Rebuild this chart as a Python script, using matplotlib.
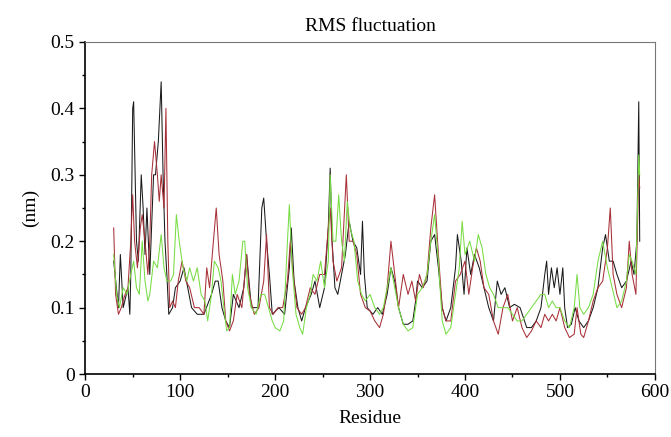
import numpy as np
import matplotlib.pyplot as plt

# values (residue, RMSF in nm)
black_res = [30, 35, 37, 40, 45, 47, 48, 50, 51, 54, 56, 59, 61, 63, 65, 68, 72, 74, 77, 80,
             82, 84, 86, 88, 92, 95, 100, 104, 108, 112, 118, 125, 133, 137, 140, 144, 148, 152,
             156, 162, 167, 170, 175, 182, 186, 188, 191, 194, 197, 204, 210, 215, 217, 220, 224,
             228, 232, 238, 242, 247, 252, 256, 258, 260, 263, 266, 270, 274, 278, 282, 286, 290,
             292, 294, 297, 303, 308, 313, 318, 322, 326, 330, 335, 340, 345, 348, 350, 355, 360,
             364, 368, 372, 376, 380, 385, 390, 392, 396, 399, 402, 406, 410, 415, 420, 425, 430,
             434, 438, 442, 447, 452, 458, 465, 470, 475, 480, 484, 486, 488, 491, 494, 497, 500,
             503, 505, 508, 512, 516, 520, 525, 530, 535, 540, 545, 548, 552, 556, 560, 565, 570,
             575, 578, 581, 583, 584]
black_val = [0.17, 0.10, 0.18, 0.10, 0.13, 0.09, 0.15, 0.40, 0.41, 0.20, 0.17, 0.30, 0.25, 0.18,
             0.25, 0.15, 0.30, 0.30, 0.35, 0.44, 0.30, 0.20, 0.15, 0.09, 0.10, 0.13, 0.14, 0.16,
             0.13, 0.10, 0.09, 0.09, 0.12, 0.14, 0.14, 0.10, 0.08, 0.07, 0.12, 0.10, 0.13, 0.18,
             0.10, 0.10, 0.25, 0.265, 0.20, 0.15, 0.09, 0.10, 0.09, 0.16, 0.22, 0.14, 0.10, 0.08,
             0.10, 0.12, 0.14, 0.10, 0.13, 0.22, 0.31, 0.20, 0.13, 0.12, 0.15, 0.18, 0.23, 0.20,
             0.19, 0.15, 0.23, 0.15, 0.10, 0.09, 0.10, 0.09, 0.12, 0.16, 0.14, 0.10, 0.075, 0.075,
             0.08, 0.11, 0.14, 0.13, 0.14, 0.20, 0.21, 0.16, 0.10, 0.08, 0.10, 0.16, 0.21, 0.17,
             0.12, 0.19, 0.15, 0.18, 0.16, 0.13, 0.10, 0.08, 0.14, 0.12, 0.13, 0.10, 0.105, 0.10,
             0.07, 0.07, 0.08, 0.10, 0.15, 0.17, 0.12, 0.16, 0.13, 0.16, 0.12, 0.16, 0.10, 0.07,
             0.075, 0.10, 0.08, 0.07, 0.08, 0.10, 0.13, 0.19, 0.21, 0.17, 0.17, 0.15, 0.13, 0.14,
             0.17, 0.15, 0.20, 0.41, 0.20]

red_res = [30, 32, 35, 38, 42, 45, 48, 50, 52, 55, 58, 60, 63, 66, 68, 70, 73, 76, 78, 80, 83,
           85, 87, 89, 92, 95, 98, 102, 106, 110, 115, 120, 125, 128, 131, 135, 138, 141, 145,
           148, 152, 156, 160, 165, 170, 173, 178, 183, 188, 191, 194, 198, 203, 208, 213, 216,
           219, 223, 228, 232, 237, 242, 247, 252, 256, 258, 261, 265, 270, 275, 278, 282, 286,
           290, 295, 300, 305, 310, 314, 318, 322, 326, 330, 335, 340, 344, 348, 352, 356, 360,
           364, 368, 372, 376, 380, 385, 390, 395, 400, 404, 408, 412, 416, 420, 425, 430, 435,
           440, 445, 450, 455, 460, 465, 470, 475, 480, 484, 488, 492, 496, 500, 505, 510, 515,
           518, 522, 525, 530, 535, 540, 545, 550, 553, 556, 560, 565, 570, 573, 576, 580, 583, 584]
red_val = [0.22, 0.12, 0.09, 0.10, 0.12, 0.13, 0.20, 0.27, 0.20, 0.16, 0.22, 0.24, 0.20, 0.15,
           0.20, 0.30, 0.35, 0.30, 0.26, 0.30, 0.25, 0.40, 0.20, 0.10, 0.11, 0.10, 0.14, 0.17,
           0.14, 0.13, 0.10, 0.10, 0.09, 0.16, 0.13, 0.20, 0.25, 0.18, 0.14, 0.08, 0.065, 0.08,
           0.12, 0.10, 0.18, 0.12, 0.09, 0.10, 0.14, 0.21, 0.10, 0.09, 0.10, 0.10, 0.14, 0.20,
           0.15, 0.10, 0.09, 0.10, 0.13, 0.12, 0.15, 0.15, 0.22, 0.25, 0.17, 0.14, 0.16, 0.30,
           0.20, 0.20, 0.18, 0.12, 0.10, 0.095, 0.08, 0.07, 0.09, 0.13, 0.20, 0.15, 0.10, 0.15,
           0.12, 0.14, 0.11, 0.15, 0.13, 0.15, 0.22, 0.27, 0.18, 0.10, 0.08, 0.08, 0.14, 0.15,
           0.17, 0.12, 0.16, 0.19, 0.17, 0.13, 0.12, 0.08, 0.06, 0.10, 0.12, 0.08, 0.10, 0.07,
           0.055, 0.065, 0.08, 0.07, 0.09, 0.08, 0.09, 0.08, 0.10, 0.07, 0.055, 0.06, 0.10, 0.06,
           0.055, 0.08, 0.11, 0.13, 0.14, 0.19, 0.25, 0.15, 0.12, 0.10, 0.13, 0.20, 0.15, 0.12,
           0.30, 0.28]

green_res = [30, 33, 36, 40, 44, 48, 51, 54, 57, 60, 63, 66, 68, 72, 76, 80, 83, 86, 90, 93, 96,
             99, 103, 107, 110, 114, 118, 122, 126, 129, 133, 136, 140, 143, 146, 149, 152, 155,
             158, 162, 166, 168, 171, 175, 180, 185, 189, 193, 197, 200, 205, 209, 213, 215, 218,
             222, 226, 229, 233, 237, 240, 244, 248, 252, 256, 258, 261, 264, 267, 270, 273, 276,
             279, 283, 287, 291, 295, 300, 305, 310, 314, 318, 322, 326, 330, 335, 340, 345, 350,
             355, 360, 364, 368, 372, 376, 380, 385, 390, 394, 397, 400, 405, 410, 414, 418, 422,
             426, 430, 435, 440, 445, 450, 455, 460, 465, 470, 475, 480, 484, 488, 492, 496, 500,
             505, 510, 515, 518, 521, 525, 530, 535, 540, 545, 550, 555, 560, 565, 570, 573, 576,
             580, 583, 584]
green_val = [0.18, 0.12, 0.10, 0.13, 0.12, 0.15, 0.17, 0.13, 0.12, 0.20, 0.14, 0.11, 0.12, 0.17,
             0.16, 0.21, 0.16, 0.14, 0.14, 0.15, 0.24, 0.20, 0.16, 0.14, 0.16, 0.14, 0.16, 0.12,
             0.11, 0.08, 0.12, 0.17, 0.16, 0.14, 0.10, 0.065, 0.07, 0.15, 0.12, 0.14, 0.20, 0.20,
             0.13, 0.10, 0.09, 0.12, 0.12, 0.10, 0.08, 0.07, 0.065, 0.08, 0.20, 0.255, 0.16, 0.09,
             0.07, 0.06, 0.10, 0.12, 0.15, 0.14, 0.17, 0.13, 0.17, 0.30, 0.20, 0.20, 0.27, 0.20,
             0.17, 0.26, 0.22, 0.20, 0.14, 0.12, 0.11, 0.12, 0.10, 0.09, 0.10, 0.13, 0.16, 0.13,
             0.10, 0.075, 0.065, 0.07, 0.12, 0.13, 0.15, 0.20, 0.24, 0.17, 0.08, 0.06, 0.07, 0.12,
             0.16, 0.23, 0.18, 0.20, 0.17, 0.21, 0.19, 0.15, 0.13, 0.12, 0.10, 0.10, 0.10, 0.09,
             0.08, 0.08, 0.09, 0.10, 0.11, 0.12, 0.12, 0.10, 0.11, 0.10, 0.10, 0.08, 0.07, 0.10,
             0.15, 0.10, 0.09, 0.10, 0.12, 0.17, 0.20, 0.16, 0.13, 0.10, 0.11, 0.14, 0.18, 0.17,
             0.15, 0.33, 0.30]

plt.rcParams['font.family'] = ['Liberation Serif', 'DejaVu Serif']

fig = plt.figure(figsize=(6.71, 4.37), dpi=100)
ax = fig.add_axes([0.127, 0.144, 0.849, 0.760])

ax.plot(black_res, black_val, color='#1a1a1a', linewidth=0.75)
ax.plot(red_res, red_val, color='#a83038', linewidth=0.75)
ax.plot(green_res, green_val, color='#78dc44', linewidth=0.75)

ax.set_xlim(0, 600)
ax.set_ylim(0, 0.5)
ax.set_xticks(np.arange(0, 601, 100))
ax.set_xticks(np.arange(50, 600, 100), minor=True)
ax.set_yticks(np.arange(0, 0.51, 0.1))
ax.set_yticks(np.arange(0.05, 0.5, 0.05), minor=True)
ax.set_yticklabels(['0', '0.1', '0.2', '0.3', '0.4', '0.5'])
ax.tick_params(which='major', length=4, width=1, labelsize=14, direction='out')
ax.tick_params(which='minor', length=2, width=1, direction='out')
for s in ['top', 'right']:
    ax.spines[s].set_color('#777777')
for s in ['left', 'bottom']:
    ax.spines[s].set_linewidth(1.2)

ax.set_title('RMS fluctuation', fontsize=14, pad=8)
ax.set_xlabel('Residue', fontsize=14, labelpad=6)
ax.set_ylabel('(nm)', fontsize=14, labelpad=8)

fig.savefig('out.png', dpi=100)
